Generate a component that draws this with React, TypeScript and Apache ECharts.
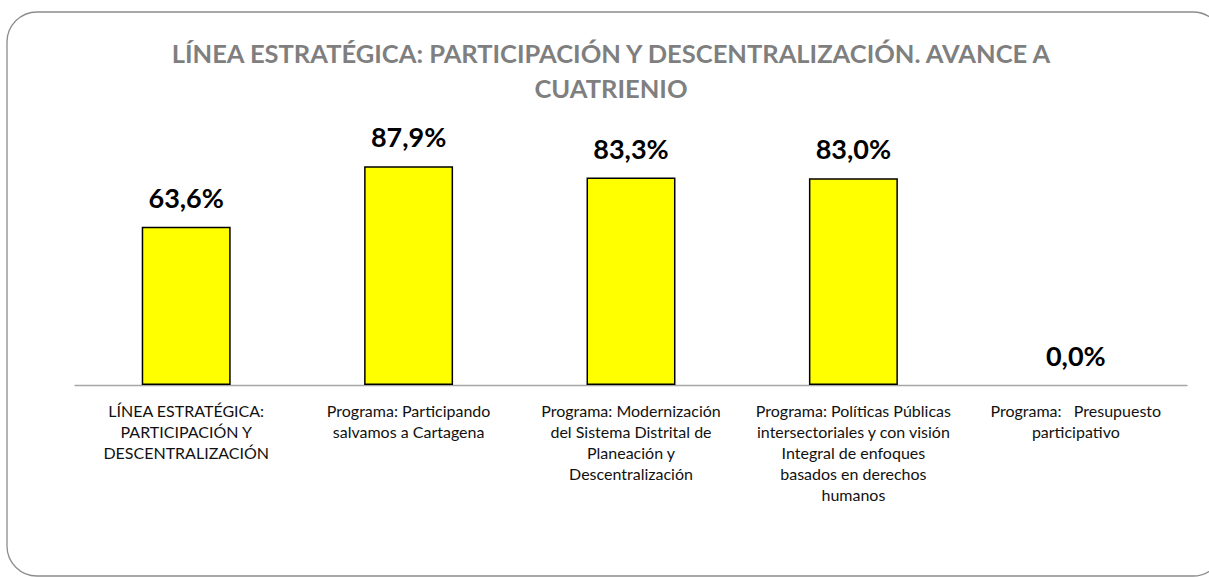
import React, { useEffect, useRef } from "react";
import * as echarts from "echarts";

const titleText =
  "LÍNEA ESTRATÉGICA: PARTICIPACIÓN Y DESCENTRALIZACIÓN. AVANCE A\nCUATRIENIO";

const categories = [
  "LÍNEA ESTRATÉGICA:\nPARTICIPACIÓN Y\nDESCENTRALIZACIÓN",
  "Programa: Participando\nsalvamos a Cartagena",
  "Programa: Modernización\ndel Sistema Distrital de\nPlaneación y\nDescentralización",
  "Programa: Políticas Públicas\nintersectoriales y con visión\nIntegral de enfoques\nbasados en derechos\nhumanos",
  "Programa:   Presupuesto\nparticipativo",
];

const avance = [0.636, 0.879, 0.833, 0.83, 0.0];

const FONT = "Lato, 'Noto Sans', sans-serif";

export default function App() {
  const ref = useRef<HTMLDivElement>(null);

  useEffect(() => {
    if (!ref.current) return;
    const chart = echarts.init(ref.current, null, { renderer: "svg" });
    chart.setOption({
      animation: false,
      backgroundColor: "#ffffff",
      title: {
        text: titleText,
        left: 606,
        textAlign: "center",
        top: 30,
        textStyle: {
          fontFamily: FONT,
          fontSize: 25.5,
          fontWeight: "bold",
          color: "#7f7f7f",
          lineHeight: 35,
          align: "center",
        },
      },
      graphic: [
        {
          type: "rect",
          shape: { x: 7, y: 12, width: 1216, height: 564, r: 30 },
          style: { fill: "none", stroke: "#8c8c8c", lineWidth: 1.3 },
          silent: true,
          z: -10,
        },
      ],
      grid: { left: 75, right: 22, top: 136, bottom: 192 },
      xAxis: {
        type: "category",
        data: categories,
        axisLine: { show: true, lineStyle: { color: "#a6a6a6", width: 1.3 } },
        axisTick: { show: false },
        axisLabel: {
          interval: 0,
          margin: 15,
          fontFamily: FONT,
          fontSize: 16,
          lineHeight: 21,
          color: "#111111",
          align: "center",
        },
      },
      yAxis: {
        type: "value",
        min: 0,
        max: 1,
        show: false,
        splitLine: { show: false },
      },
      series: [
        {
          type: "bar",
          data: avance.map((v) =>
            v === 0 ? { value: v, itemStyle: { borderWidth: 0 } } : v
          ),
          barWidth: "40%",
          itemStyle: { color: "#ffff00", borderColor: "#000000", borderWidth: 1.5 },
          label: {
            show: true,
            position: "top",
            distance: 16,
            fontFamily: FONT,
            fontSize: 27,
            fontWeight: "bold",
            color: "#000000",
            formatter: (p: any) => (p.value * 100).toFixed(1).replace(".", ",") + "%",
          },
        },
      ],
    });
    return () => chart.dispose();
  }, []);

  return (
    <div
      ref={ref}
      style={{ position: "fixed", left: 0, top: 0, width: 1209, height: 577 }}
    />
  );
}
